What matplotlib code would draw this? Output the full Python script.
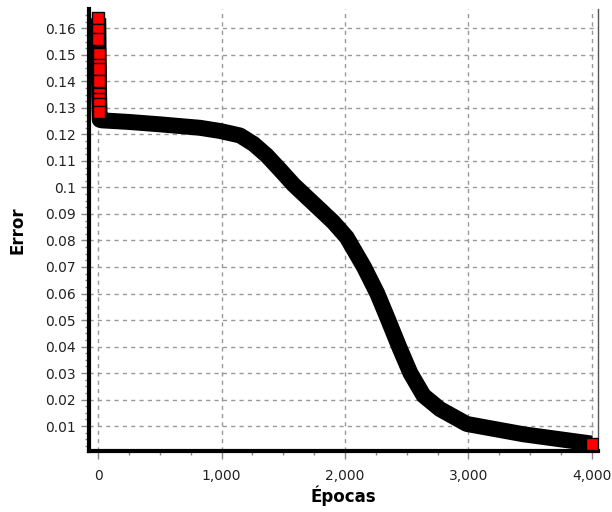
import matplotlib.pyplot as plt
from matplotlib.ticker import MultipleLocator, FuncFormatter

# datos (epoca, error)
epocas = [0, 1, 2, 3, 4, 5, 6, 7, 8, 9, 10, 12, 30, 250, 500, 824, 987,
          1149, 1259, 1365, 1473, 1582, 1689, 1797, 1906, 2014, 2154,
          2262, 2351, 2438, 2530, 2637, 2770, 2987, 3448, 4000]
error = [0.1638, 0.1594, 0.1560, 0.1504, 0.1462, 0.1446, 0.1403, 0.1353,
         0.1332, 0.1315, 0.1286, 0.1255, 0.1253, 0.1247, 0.1238, 0.1225,
         0.1213, 0.1196, 0.1164, 0.1121, 0.1067, 0.1011, 0.0964, 0.0917,
         0.0869, 0.0812, 0.0700, 0.0600, 0.0500, 0.0400, 0.0300,
         0.0215, 0.0164, 0.0108, 0.0069, 0.0034]
# puntos marcados en rojo: primeras epocas y la ultima
marcados = list(range(11)) + [len(epocas) - 1]

fig = plt.figure(figsize=(6.12, 5.12), dpi=100)
ax = fig.add_axes([89 / 612, 1 - 451 / 512, (598 - 89) / 612, (451 - 9) / 512])

ax.plot(epocas, error, color='black', lw=11.5, solid_joinstyle='round',
        solid_capstyle='butt', marker='s', ms=9, mfc='red', mec='black',
        mew=1, markevery=marcados, zorder=3)

ax.set_xlim(-75, 4051)
ax.set_ylim(0.0006, 0.1673)

ax.xaxis.set_major_locator(MultipleLocator(1000))
ax.xaxis.set_minor_locator(MultipleLocator(250))
ax.yaxis.set_major_locator(MultipleLocator(0.01))
ax.yaxis.set_minor_locator(MultipleLocator(0.0025))
ax.xaxis.set_major_formatter(FuncFormatter(lambda v, p: f'{int(v):,}'))
ax.yaxis.set_major_formatter(FuncFormatter(lambda v, p: f'{v:.2f}'.rstrip('0') if v > 0.001 else ''))

ax.tick_params(axis='both', which='major', length=6, width=1, color='#888888',
               labelsize=10, labelcolor='#222222', direction='out')
ax.tick_params(axis='x', which='major', pad=7)
ax.tick_params(axis='both', which='minor', length=3, width=1, color='#888888',
               direction='out')

ax.grid(True, which='major', color='#999999', linestyle=(0, (3, 3)), lw=1)

ax.spines['left'].set_linewidth(3)
ax.spines['bottom'].set_linewidth(3)
ax.spines['top'].set_visible(False)
ax.spines['right'].set_color('#555555')
ax.spines['right'].set_linewidth(1)

ax.set_xlabel('Épocas', fontsize=12, fontweight='bold', labelpad=2)
ax.set_ylabel('Error', fontsize=12, fontweight='bold', labelpad=13)

fig.savefig('out.png', dpi=100)
